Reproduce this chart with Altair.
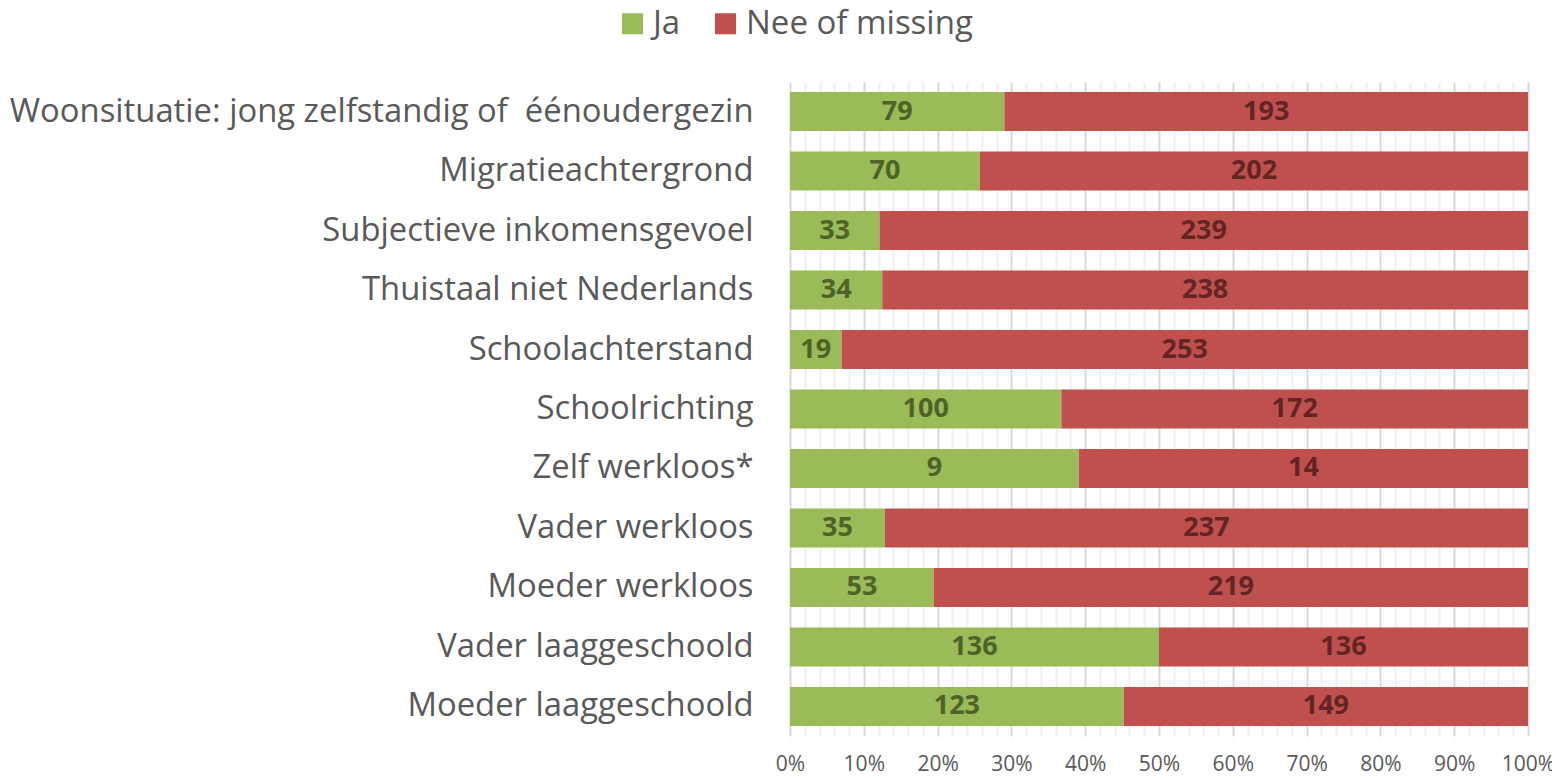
import altair as alt
import pandas as pd

categories = [
    "Woonsituatie: jong zelfstandig of \u00a0éénoudergezin",
    "Migratieachtergrond",
    "Subjectieve inkomensgevoel",
    "Thuistaal niet Nederlands",
    "Schoolachterstand",
    "Schoolrichting",
    "Zelf werkloos*",
    "Vader werkloos",
    "Moeder werkloos",
    "Vader laaggeschoold",
    "Moeder laaggeschoold",
]
ja = [79, 70, 33, 34, 19, 100, 9, 35, 53, 136, 123]
nee = [193, 202, 239, 238, 253, 172, 14, 237, 219, 136, 149]
series = ["Ja", "Nee of missing"]
colors = ["#9BBB59", "#C0504D"]
text_colors = ["#4F6228", "#632523"]

rows = []
for c, a, b in zip(categories, ja, nee):
    tot = a + b
    rows.append({"cat": c, "series": "Ja", "n": a, "start": 0, "end": a / tot, "mid": a / tot / 2})
    rows.append({"cat": c, "series": "Nee of missing", "n": b, "start": a / tot, "end": 1, "mid": (a + b / 2) / tot})
df = pd.DataFrame(rows)

FONT = "Open Sans"
ticks = [i / 50 for i in range(51)]

x_scale = alt.Scale(domain=[0, 1], nice=False, zero=True)
y_scale = alt.Scale(paddingInner=0.345, paddingOuter=0.17)
x_axis = alt.Axis(title=None, values=ticks, format=".0%",
                  labelExpr="round(datum.value*100) % 10 == 0 ? datum.label : ''",
                  labelFontSize=21, labelColor="#595959", labelFont=FONT, labelPadding=17,
                  labelOverlap=False, labelFlush=False, labelBound=False,
                  ticks=False, domain=False, grid=True,
                  gridColor={"condition": {"test": "round(datum.value*100) % 10 == 0", "value": "#D9D9D9"}, "value": "#EFEFEF"},
                  gridWidth=2)
y_axis = alt.Axis(title=None, labelFontSize=32.8, labelColor="#595959", labelFont=FONT,
                  labelPadding=37, ticks=False, domain=False, labelLimit=900)

base = alt.Chart(df)

bars = base.mark_bar().encode(
    x=alt.X("start:Q", scale=x_scale, axis=x_axis),
    x2="end:Q",
    y=alt.Y("cat:N", sort=categories, scale=y_scale, axis=y_axis),
    color=alt.Color("series:N", scale=alt.Scale(domain=series, range=colors),
                    legend=alt.Legend(title=None, orient="none", direction="horizontal",
                                      legendX=-174, legendY=-75, labelFontSize=33, labelFont=FONT,
                                      labelColor="#595959", symbolType="square", symbolSize=441,
                                      symbolStrokeWidth=0, columnPadding=28, labelOffset=4,
                                      labelLimit=600)),
)

labels = base.mark_text(fontWeight="bold", fontSize=27, font=FONT).encode(
    x=alt.X("mid:Q", scale=x_scale, axis=x_axis),
    y=alt.Y("cat:N", sort=categories, scale=y_scale, axis=y_axis),
    text="n:Q",
    color=alt.Color("series:N", scale=alt.Scale(domain=series, range=text_colors), legend=None),
)

chart = alt.layer(bars, labels).resolve_scale(color="independent").properties(
    width=738, height=654,
    padding={"left": 782, "top": 74, "right": 24, "bottom": 42},
    autosize=alt.AutoSizeParams(type="none"),
).configure(background="white").configure_view(stroke=None)

chart.save("out.html", embed_options={"renderer": "svg", "actions": False})
